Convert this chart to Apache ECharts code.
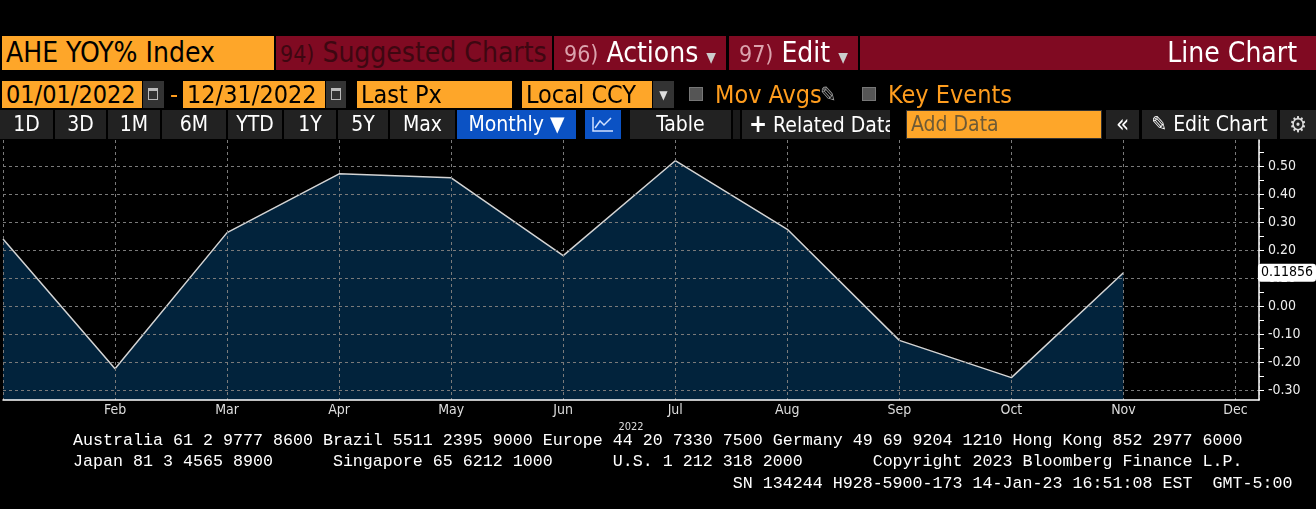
<!DOCTYPE html>
<html>
<head>
<meta charset="utf-8">
<script src="https://cdn.jsdelivr.net/npm/echarts@6/dist/echarts.min.js"></script>
<style>
  html, body { margin: 0; padding: 0; background: #000; overflow: hidden; }
  #page { position: relative; width: 1316px; height: 509px; background: #000; }
  #chart { position: absolute; left: 0; top: 0; width: 1316px; height: 509px; }
  .bx { position: absolute; box-sizing: border-box; white-space: nowrap; overflow: hidden;
        font-family: "Liberation Sans Narrow", "DejaVu Sans Condensed", "Roboto", sans-serif; }
  .r1 { top: 36px; height: 34px; font-size: 28px; line-height: 34px; background: #800a22; }
  .r2 { top: 81px; height: 27px; font-size: 25px; line-height: 28px; }
  .r3 { top: 110px; height: 29px; font-size: 21px; line-height: 29px; background: #222; color: #fff; text-align: center; }
  .org { background: #fea629; color: #000; padding-left: 4px; }
  .cal { background: #333; }
  .cal i { position: absolute; left: 5px; top: 7px; width: 10px; height: 12px; border: 1px solid #bbb; border-top-width: 3px; box-sizing: border-box; }
  .chk { position: absolute; top: 87px; width: 14px; height: 14px; background: #555; border: 1px solid #777; box-sizing: border-box; }
  .otx { color: #ff9d1e; background: none; }
  .blue { background: #0b52c4; }
</style>
</head>
<body>
<div id="page">
  <div id="chart"></div>

  <!-- row 1 -->
  <div class="bx r1 org" style="left:2px;width:272px;">AHE YOY% Index</div>
  <div class="bx r1" style="left:276px;width:276px;color:#3e0711;padding-left:4px;"><span style="font-size:23px">94)</span> Suggested Charts</div>
  <div class="bx r1" style="left:554px;width:172px;color:#fff;padding-left:10px;"><span style="font-size:23px;color:#dba3ad">96)</span> Actions <span style="font-size:14px;color:#ccc">&#9660;</span></div>
  <div class="bx r1" style="left:729px;width:129px;color:#fff;padding-left:10px;"><span style="font-size:23px;color:#dba3ad">97)</span> Edit <span style="font-size:14px;color:#ccc">&#9660;</span></div>
  <div class="bx r1" style="left:860px;width:456px;color:#fff;text-align:right;padding-right:19px;">Line Chart</div>

  <!-- row 2 -->
  <div class="bx r2 org" style="left:2px;width:140px;">01/01/2022</div>
  <div class="bx r2 cal" style="left:143px;width:21px;"><i></i></div>
  <div class="bx r2" style="left:170px;width:12px;color:#ff9d1e;">-</div>
  <div class="bx r2 org" style="left:183px;width:142px;">12/31/2022</div>
  <div class="bx r2 cal" style="left:326px;width:20px;"><i></i></div>
  <div class="bx r2 org" style="left:357px;width:155px;">Last Px</div>
  <div class="bx r2 org" style="left:522px;width:130px;">Local CCY</div>
  <div class="bx r2" style="left:653px;width:21px;background:#333;color:#ddd;font-size:12px;text-align:center;">&#9660;</div>
  <div class="chk" style="left:689px;"></div>
  <div class="bx r2 otx" style="left:715px;width:110px;">Mov Avgs</div>
  <div class="bx r2" style="left:820px;width:26px;color:#999;font-size:22px;">&#9998;</div>
  <div class="chk" style="left:862px;"></div>
  <div class="bx r2 otx" style="left:888px;width:140px;">Key Events</div>

  <!-- row 3 -->
  <div class="bx r3" style="left:0px;width:53px;">1D</div>
  <div class="bx r3" style="left:55px;width:51px;">3D</div>
  <div class="bx r3" style="left:108px;width:52px;">1M</div>
  <div class="bx r3" style="left:162px;width:64px;">6M</div>
  <div class="bx r3" style="left:228px;width:54px;">YTD</div>
  <div class="bx r3" style="left:284px;width:52px;">1Y</div>
  <div class="bx r3" style="left:338px;width:50px;">5Y</div>
  <div class="bx r3" style="left:390px;width:65px;">Max</div>
  <div class="bx r3 blue" style="left:457px;width:119px;">Monthly &#9660;</div>
  <div class="bx r3 blue" style="left:585px;width:36px;">
    <svg width="24" height="20" viewBox="0 0 24 20" style="margin-top:4px"><polyline points="2,3 2,17 22,17" fill="none" stroke="#cfe0ff" stroke-width="1.5"/><polyline points="4,14 9,7 13,11 20,4" fill="none" stroke="#cfe0ff" stroke-width="1.5"/></svg>
  </div>
  <div class="bx r3" style="left:630px;width:101px;">Table</div>
  <div class="bx r3" style="left:733px;width:7px;background:#1a1a1a;"></div>
  <div class="bx r3" style="left:742px;width:148px;text-align:left;padding-left:7px;"><b style="font-size:24px">+</b> Related Data</div>
  <div class="bx r3" style="left:906px;width:196px;background:#fea629;color:#6e5a36;text-align:left;padding-left:4px;border:1px solid #333;line-height:27px;">Add Data</div>
  <div class="bx r3" style="left:1106px;width:33px;font-size:24px;">&#171;</div>
  <div class="bx r3" style="left:1142px;width:135px;">&#9998; Edit Chart</div>
  <div class="bx r3" style="left:1280px;width:36px;color:#ddd;font-size:22px;">&#9881;</div>
</div>

<script>
// monthly AHE YOY% readings, 2022 (Jan..Nov)
var months = ['Jan', 'Feb', 'Mar', 'Apr', 'May', 'Jun', 'Jul', 'Aug', 'Sep', 'Oct', 'Nov', 'Dec'];
var values = [0.239, -0.224, 0.262, 0.472, 0.458, 0.180, 0.519, 0.274, -0.123, -0.256, 0.11856];
var yLabelValues = [-0.3, -0.2, -0.1, 0, 0.1, 0.2, 0.3, 0.4, 0.5];
var yTickValues = [-0.3, -0.25, -0.2, -0.15, -0.1, -0.05, 0, 0.05, 0.1, 0.15, 0.2, 0.25, 0.3, 0.35, 0.4, 0.45, 0.5, 0.55];
var yearLabel = '2022';
var footerLines = [
    'Australia 61 2 9777 8600 Brazil 5511 2395 9000 Europe 44 20 7330 7500 Germany 49 69 9204 1210 Hong Kong 852 2977 6000',
    'Japan 81 3 4565 8900      Singapore 65 6212 1000      U.S. 1 212 318 2000       Copyright 2023 Bloomberg Finance L.P.',
    '                                                                  SN 134244 H928-5900-173 14-Jan-23 16:51:08 EST  GMT-5:00'
];

var yMin = -0.336, yMax = 0.593;
var lastValue = values[values.length - 1];

var data = [];
for (var i = 0; i < values.length; i++) {
    data.push([i, values[i]]);
}

var footer = [];
for (var j = 0; j < footerLines.length; j++) {
    footer.push({
        type: 'text',
        left: 73,
        top: 432 + j * 21.5,
        style: {
            text: footerLines[j],
            fill: '#fff',
            font: '16.67px "Liberation Mono", "DejaVu Sans Mono", monospace'
        }
    });
}

var axisFont = 'Liberation Sans Narrow, DejaVu Sans Condensed, sans-serif';

var myChart = echarts.init(document.getElementById('chart'));
myChart.setOption({
    backgroundColor: '#000',
    animation: false,
    grid: { left: 0, right: 57, top: 140, bottom: 109, containLabel: false },
    xAxis: {
        type: 'value',
        min: 0,
        max: 11.21,
        interval: 1,
        z: 3,
        name: yearLabel,
        nameLocation: 'middle',
        nameGap: 21,
        nameTextStyle: { color: '#ddd', fontSize: 11, fontFamily: axisFont },
        axisLine: { onZero: false, lineStyle: { color: '#fff', width: 1.5 } },
        axisTick: { show: false },
        axisLabel: {
            color: '#ddd',
            fontSize: 14,
            margin: 3,
            showMaxLabel: false,
            fontFamily: axisFont,
            formatter: function (v) { return v === 0 ? '' : (months[v] || ''); }
        },
        splitLine: { show: true, lineStyle: { color: '#7a7a7a', type: [3, 3], width: 1 } }
    },
    yAxis: [{
        type: 'value',
        position: 'right',
        min: yMin,
        max: yMax,
        z: 3,
        axisLine: { show: true, onZero: false, lineStyle: { color: '#fff', width: 1.5 } },
        axisTick: { show: true, inside: false, length: 5, customValues: yTickValues, lineStyle: { color: '#fff' } },
        axisLabel: {
            customValues: yLabelValues,
            color: '#eee',
            fontSize: 14,
            margin: 9,
            fontFamily: axisFont,
            formatter: function (v) { return v.toFixed(2); }
        },
        splitLine: { show: false },
        axisPointer: {
            show: true,
            type: 'none',
            status: 'show',
            value: lastValue,
            triggerTooltip: false,
            label: {
                show: true,
                backgroundColor: '#fff',
                color: '#000',
                fontSize: 14,
                padding: [2, 3, 2, 3],
                margin: 4,
                fontFamily: axisFont,
                formatter: function () { return String(lastValue); }
            }
        }
    }, {
        type: 'value',
        position: 'right',
        min: yMin,
        max: yMax,
        z: 3,
        axisLine: { show: false, onZero: false },
        axisTick: { show: false, customValues: yLabelValues },
        axisLabel: { show: false },
        splitLine: { show: true, lineStyle: { color: '#7a7a7a', type: [3, 3], width: 1 } }
    }],
    series: [{
        type: 'line',
        yAxisIndex: 0,
        data: data,
        symbol: 'none',
        lineStyle: { color: '#d4d4d4', width: 1.5 },
        areaStyle: { color: '#02233c', opacity: 1, origin: 'start' },
        z: 2
    }],
    graphic: footer
});
</script>
</body>
</html>
